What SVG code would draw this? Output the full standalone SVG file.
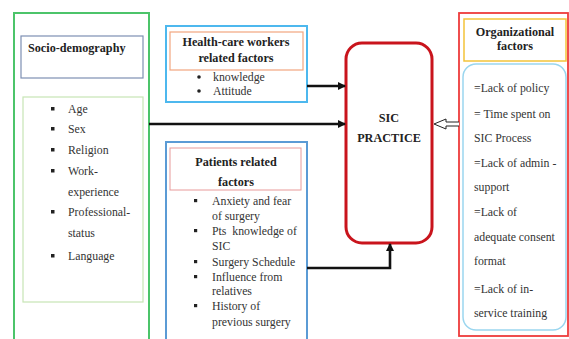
<svg xmlns="http://www.w3.org/2000/svg" width="569" height="339" viewBox="0 0 569 339" font-family="'Liberation Serif', 'Times New Roman', 'DejaVu Serif', serif">
<defs>
<style>
text{font-family:'Liberation Serif','Times New Roman','DejaVu Serif',serif;font-size:11.8px;fill:#333}
.b{font-weight:bold;font-size:12.2px;fill:#222}
.c{text-anchor:middle}
.conn{stroke:#111;stroke-width:2.6;fill:none}
</style>
<marker id="ah" markerWidth="8" markerHeight="8" refX="7" refY="4" orient="auto" markerUnits="userSpaceOnUse"><path d="M0,0 L8,4 L0,8 z" fill="#111"/></marker>
</defs>
<rect width="569" height="339" fill="#fff"/>

<g id="socio">
<rect x="14" y="13" width="135" height="340" fill="none" stroke="#4cc46a" stroke-width="2"/>
<rect x="21" y="36" width="122" height="42" fill="none" stroke="#7d8fb3" stroke-width="1.2"/>
<text class="b" x="28" y="52">Socio-demography</text>
<rect x="23" y="97" width="120" height="205" fill="none" stroke="#c7e5b5" stroke-width="1.2"/>
<g fill="#222"><rect x="51" y="107" width="3.5" height="3.5"/><rect x="51" y="127" width="3.5" height="3.5"/><rect x="51" y="148" width="3.5" height="3.5"/><rect x="51" y="169" width="3.5" height="3.5"/><rect x="51" y="210" width="3.5" height="3.5"/><rect x="51" y="254" width="3.5" height="3.5"/></g>
<text x="68" y="113">Age</text>
<text x="68" y="133">Sex</text>
<text x="68" y="154">Religion</text>
<text x="68" y="175">Work-</text>
<text x="68" y="196">experience</text>
<text x="68" y="216">Professional-</text>
<text x="68" y="237">status</text>
<text x="68" y="260">Language</text>
</g>

<g id="hcw">
<rect x="166" y="26" width="141" height="76" fill="none" stroke="#4db8ee" stroke-width="2"/>
<rect x="170" y="32" width="133" height="38" fill="none" stroke="#f2a67f" stroke-width="1.2"/>
<text class="b c" x="236" y="46">Health-care workers</text>
<text class="b c" x="236" y="62">related factors</text>
<circle cx="199" cy="77" r="1.8" fill="#222"/><circle cx="199" cy="91" r="1.8" fill="#222"/>
<text x="213" y="81">knowledge</text>
<text x="213" y="95">Attitude</text>
</g>

<g id="patients">
<rect x="166" y="142" width="141" height="210" fill="none" stroke="#5b9bd5" stroke-width="2"/>
<rect x="170" y="148" width="131" height="42" fill="none" stroke="#e89a9a" stroke-width="1"/>
<text class="b c" x="236" y="166">Patients related</text>
<text class="b c" x="236" y="186">factors</text>
<g fill="#222"><rect x="194" y="199" width="3.2" height="3.2"/><rect x="194" y="229" width="3.2" height="3.2"/><rect x="194" y="260" width="3.2" height="3.2"/><rect x="194" y="275" width="3.2" height="3.2"/><rect x="194" y="304" width="3.2" height="3.2"/></g>
<text x="212" y="205">Anxiety and fear</text>
<text x="212" y="220">of surgery</text>
<text x="212" y="235" xml:space="preserve">Pts  knowledge of</text>
<text x="212" y="250">SIC</text>
<text x="212" y="266">Surgery Schedule</text>
<text x="212" y="281">Influence from</text>
<text x="212" y="295">relatives</text>
<text x="212" y="310">History of</text>
<text x="212" y="326">previous surgery</text>
</g>

<g id="sic">
<rect x="346" y="43" width="86" height="200" rx="16" fill="#fff" stroke="#c9141c" stroke-width="3"/>
<text class="b c" x="389" y="122">SIC</text>
<text class="b c" x="389" y="142">PRACTICE</text>
</g>

<g id="org">
<rect x="459" y="13" width="109" height="323" fill="none" stroke="#ee3b3b" stroke-width="1.8"/>
<rect x="464" y="19" width="102" height="42" fill="none" stroke="#f3c43a" stroke-width="1.5"/>
<text class="b c" x="515" y="36">Organizational</text>
<text class="b c" x="515" y="50">factors</text>
<rect x="463" y="64" width="103" height="266" rx="13" fill="none" stroke="#9ad6ef" stroke-width="1.5"/>
<text x="474" y="92">=Lack of policy</text>
<text x="474" y="118">= Time spent on</text>
<text x="474" y="142">SIC Process</text>
<text x="474" y="167">=Lack of admin -</text>
<text x="474" y="191">support</text>
<text x="474" y="216">=Lack of</text>
<text x="474" y="241">adequate consent</text>
<text x="474" y="265">format</text>
<text x="474" y="293">=Lack of in-</text>
<text x="474" y="317">service training</text>
</g>

<g id="connectors">
<line class="conn" x1="307" y1="86" x2="345" y2="86" marker-end="url(#ah)"/>
<line class="conn" x1="149" y1="124" x2="345" y2="124" marker-end="url(#ah)"/>
<polyline class="conn" points="307,268 390,268 390,244" marker-end="url(#ah)"/>
<path d="M459,122 L446,122 L446,119 L434,124 L446,129 L446,126 L459,126" fill="#fff" stroke="#222" stroke-width="1"/>
</g>
</svg>
